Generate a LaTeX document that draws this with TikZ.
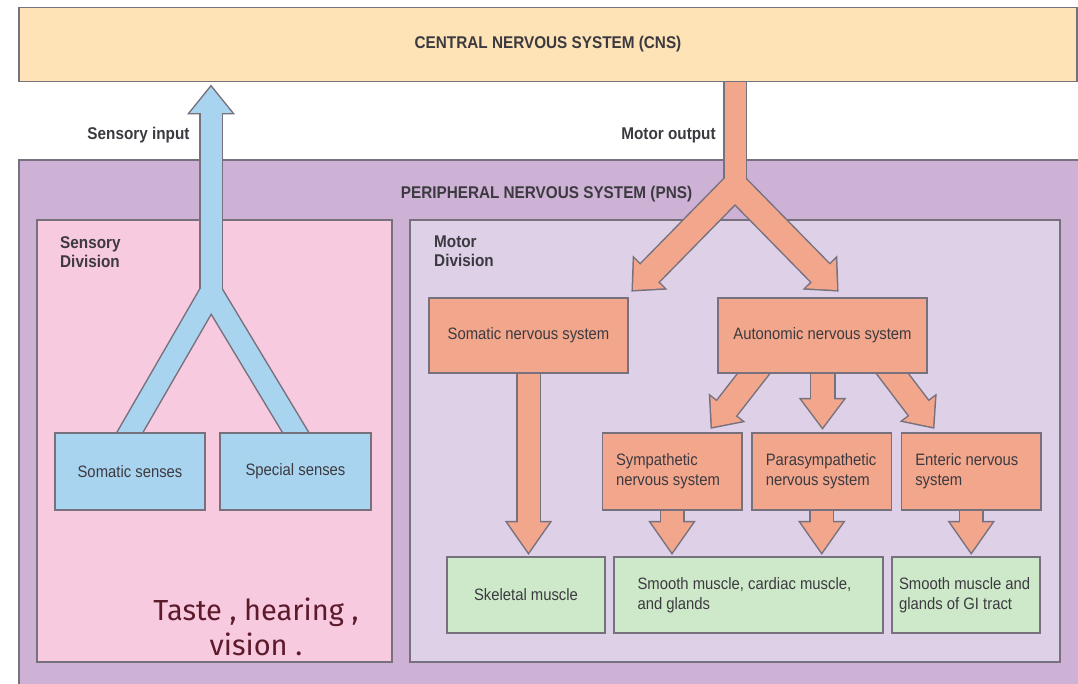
\documentclass[tikz,border=0pt]{standalone}
\usepackage{fontspec}
\setmainfont{Liberation Sans}[FakeStretch=0.9]
\newfontfamily\notefnt{Fira Sans}
\usetikzlibrary{calc,positioning}
\pgfdeclarelayer{back}
\pgfdeclarelayer{flow}
\pgfsetlayers{back,flow,main}
\definecolor{ccns}{HTML}{FDE3B6}
\definecolor{cpns}{HTML}{CDB2D5}
\definecolor{csens}{HTML}{F8CADF}
\definecolor{cmot}{HTML}{DDD0E7}
\definecolor{cblue}{HTML}{A9D4F0}
\definecolor{corange}{HTML}{F2A68C}
\definecolor{cgreen}{HTML}{CEE9C9}
\definecolor{crim}{HTML}{77717E}
\definecolor{cink}{HTML}{3C3A40}
\definecolor{cnote}{HTML}{5C1A2B}
\newcommand{\titlefnt}{\bfseries\fontsize{17}{19}\selectfont}
\newcommand{\boxfnt}{\fontsize{16.5}{20}\selectfont}
% head of a block arrow: #1 style, #2 a point behind, #3 tip, #4 length, #5 half width
\newcommand{\blkhead}[5]{%
  \path[#1] ($(#3)!#4!(#2)$) coordinate (hb)
    ($(hb)!#5!90:(#3)$) -- (#3) -- ($(hb)!#5!-90:(#3)$) -- cycle;}

\begin{document}
\begin{tikzpicture}[
    x=1pt, y=-1pt,
    panel/.style={draw=crim, line width=1.5pt, inner sep=0pt},
    title/.style={font=\titlefnt, text=cink},
    sensebox/.style={panel, fill=cblue, text=cink, font=\boxfnt, minimum height=77pt},
    nervebox/.style={panel, fill=corange, text=cink, font=\boxfnt},
    branch/.style={text width=112pt, inner xsep=13.75pt, align=flush left, minimum height=77pt},
    musclebox/.style={panel, fill=cgreen, text=cink, font=\boxfnt, minimum height=76pt},
    note/.style={font=\notefnt\fontsize{29}{35}\selectfont, text=cnote, align=center},
    pipe/.style={line join=miter},
    rimhead/.style={fill=crim, draw=crim, line width=3pt},
  ]
  \useasboundingbox (0,0) rectangle (1078,684);
  % == central and peripheral system
  \node[panel, title, fill=ccns, minimum width=1058pt, minimum height=74pt] (cns)
    at (548,44.5) {CENTRAL NERVOUS SYSTEM (CNS)};
  \begin{pgfonlayer}{back}
    \node[panel, fill=cpns, minimum width=1070pt, minimum height=530pt] (pns) at (554,425) {};
    \node[panel, fill=csens, minimum width=355pt, minimum height=442pt] (sdiv) at (214.5,441) {};
    \node[panel, fill=cmot, minimum width=650pt, minimum height=442pt] (mdiv) at (735,441) {};
  \end{pgfonlayer}
  \node[title] (pnst) at (546.5,194) {PERIPHERAL NERVOUS SYSTEM (PNS)};
  \node[title, align=left, anchor=north west, inner sep=0pt] (sdivt) at (60,236) {Sensory\\Division};
  \node[title, align=left, anchor=north west, inner sep=0pt] (mdivt) at (434,236) {Motor\\Division};
  \node[title] (inl) at (138.5,135) {Sensory input};
  \node[title] (outl) at (668.5,135) {Motor output};
  % == sensory division
  \node[sensebox, minimum width=150pt] (som) at (130,471.5) {Somatic senses};
  \node[sensebox, minimum width=151pt] (spc) at (295.5,471.5) {Special senses};
  \node[note] (taste) at (256,627) {Taste , hearing ,\\vision .};
  % == motor division
  \node[nervebox, minimum width=199pt, minimum height=75pt] (sns) at (528.5,335.5) {Somatic nervous system};
  \node[nervebox, minimum width=209pt, minimum height=75pt] (ans) at (822.5,335.5) {Autonomic nervous system};
  \node[nervebox, branch] (sym) at (672,471.5) {Sympathetic\\nervous system};
  \node[nervebox, branch] (par) at (821.75,471.5) {Parasympathetic\\nervous system};
  \node[nervebox, branch] (ent) at (971.25,471.5) {Enteric nervous\\system};
  \node[musclebox, minimum width=158pt] (skm) at (526,595) {Skeletal muscle};
  \node[musclebox, text width=222pt, inner xsep=23.5pt, align=flush left] (smc) at (748.5,595)
    {Smooth muscle, cardiac muscle,\\and glands};
  \node[musclebox, text width=134pt, inner xsep=7pt, align=flush left] (gig) at (966,595)
    {Smooth muscle and\\glands of GI tract};
  % forks and tips of the block arrows
  \coordinate (sfork) at (211,292);
  \coordinate (stip) at (211,87);
  \coordinate (mfork) at (735,186);
  \coordinate (mtipl) at (633,290);
  \coordinate (mtipr) at (837,290);
  \coordinate (ktip) at ($(sns.south |- skm.north)+(0,-4)$);
  \coordinate (ansl) at ($(ans.south)+(-69,0)$);
  \coordinate (ansr) at ($(ans.south)+(70,0)$);
  \coordinate (atipl) at (712,427);
  \coordinate (atipr) at (933,427);
  \coordinate (atipm) at ($(ans.south |- par.north)+(0,-5)$);
  \coordinate (ytip) at ($(sym.south |- smc.north)+(0,-4)$);
  \coordinate (ptip) at ($(par.south |- smc.north)+(0,-4)$);
  \coordinate (etip) at ($(ent.south |- gig.north)+(0,-4)$);
  \begin{pgfonlayer}{flow}
    % rims first, so that joined arrows keep a single outline
    \draw[pipe, draw=crim, line width=24pt] (sfork) -- ($(stip)!20pt!(sfork)$);
    \draw[pipe, draw=crim, line width=24pt]
      ($(sfork)!1.2!(som.north)$) -- (sfork) -- ($(sfork)!1.2!(spc.north)$);
    \draw[pipe, draw=crim, line width=24pt] (cns.center -| mfork) -- (mfork);
    \draw[pipe, draw=crim, line width=28pt]
      ($(mtipl)!15pt!(mfork)$) -- (mfork) -- ($(mtipr)!15pt!(mfork)$);
    \draw[pipe, draw=crim, line width=25pt] (sns.center) -- ($(ktip)!20pt!(sns.center)$);
    \draw[pipe, draw=crim, line width=27pt] ($(atipl)!1.3!(ansl)$) -- ($(atipl)!15pt!(ansl)$);
    \draw[pipe, draw=crim, line width=27pt] ($(atipr)!1.3!(ansr)$) -- ($(atipr)!15pt!(ansr)$);
    \draw[pipe, draw=crim, line width=26pt] (ans.center) -- ($(atipm)!20pt!(ans.center)$);
    \draw[pipe, draw=crim, line width=25pt] (sym.center) -- ($(ytip)!20pt!(sym.center)$);
    \draw[pipe, draw=crim, line width=25pt] (par.center) -- ($(ptip)!20pt!(par.center)$);
    \draw[pipe, draw=crim, line width=25pt] (ent.center) -- ($(etip)!20pt!(ent.center)$);
    \blkhead{rimhead}{sfork}{stip}{26pt}{21pt}
    \blkhead{rimhead}{mfork}{mtipl}{23pt}{21pt}
    \blkhead{rimhead}{mfork}{mtipr}{23pt}{21pt}
    \blkhead{rimhead}{sns.center}{ktip}{30pt}{21pt}
    \blkhead{rimhead}{ansl}{atipl}{23pt}{20pt}
    \blkhead{rimhead}{ansr}{atipr}{23pt}{20pt}
    \blkhead{rimhead}{ans.center}{atipm}{28pt}{21pt}
    \blkhead{rimhead}{sym.center}{ytip}{30pt}{21pt}
    \blkhead{rimhead}{par.center}{ptip}{30pt}{21pt}
    \blkhead{rimhead}{ent.center}{etip}{30pt}{21pt}
    % then the bodies
    \draw[pipe, draw=cblue, line width=21pt] (sfork) -- ($(stip)!20pt!(sfork)$);
    \draw[pipe, draw=cblue, line width=21pt]
      ($(sfork)!1.2!(som.north)$) -- (sfork) -- ($(sfork)!1.2!(spc.north)$);
    \draw[pipe, draw=corange, line width=21pt] (cns.center -| mfork) -- (mfork);
    \draw[pipe, draw=corange, line width=25pt]
      ($(mtipl)!15pt!(mfork)$) -- (mfork) -- ($(mtipr)!15pt!(mfork)$);
    \draw[pipe, draw=corange, line width=22pt] (sns.center) -- ($(ktip)!20pt!(sns.center)$);
    \draw[pipe, draw=corange, line width=24pt] ($(atipl)!1.3!(ansl)$) -- ($(atipl)!15pt!(ansl)$);
    \draw[pipe, draw=corange, line width=24pt] ($(atipr)!1.3!(ansr)$) -- ($(atipr)!15pt!(ansr)$);
    \draw[pipe, draw=corange, line width=23pt] (ans.center) -- ($(atipm)!20pt!(ans.center)$);
    \draw[pipe, draw=corange, line width=22pt] (sym.center) -- ($(ytip)!20pt!(sym.center)$);
    \draw[pipe, draw=corange, line width=22pt] (par.center) -- ($(ptip)!20pt!(par.center)$);
    \draw[pipe, draw=corange, line width=22pt] (ent.center) -- ($(etip)!20pt!(ent.center)$);
    \blkhead{fill=cblue}{sfork}{stip}{26pt}{21pt}
    \blkhead{fill=corange}{mfork}{mtipl}{23pt}{21pt}
    \blkhead{fill=corange}{mfork}{mtipr}{23pt}{21pt}
    \blkhead{fill=corange}{sns.center}{ktip}{30pt}{21pt}
    \blkhead{fill=corange}{ansl}{atipl}{23pt}{20pt}
    \blkhead{fill=corange}{ansr}{atipr}{23pt}{20pt}
    \blkhead{fill=corange}{ans.center}{atipm}{28pt}{21pt}
    \blkhead{fill=corange}{sym.center}{ytip}{30pt}{21pt}
    \blkhead{fill=corange}{par.center}{ptip}{30pt}{21pt}
    \blkhead{fill=corange}{ent.center}{etip}{30pt}{21pt}
  \end{pgfonlayer}
\end{tikzpicture}
\end{document}
